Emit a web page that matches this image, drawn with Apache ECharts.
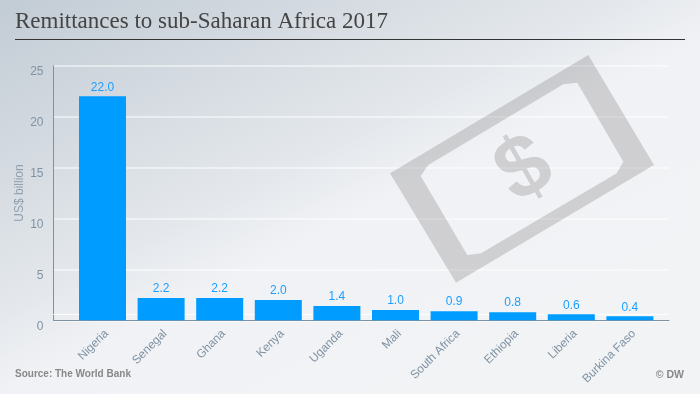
<!DOCTYPE html>
<html><head><meta charset="utf-8">
<style>html,body{margin:0;padding:0;background:#f2f3f5}#c{width:700px;height:394px}</style>
<script src="https://cdn.jsdelivr.net/npm/echarts@6/dist/echarts.min.js"></script>
</head><body><div id="c"></div>
<script>
const categories = ['Nigeria','Senegal','Ghana','Kenya','Uganda','Mali','South Africa','Ethiopia','Liberia','Burkina Faso'];
const values = [22.0,2.2,2.2,2.0,1.4,1.0,0.9,0.8,0.6,0.4];
const titleText = 'Remittances to sub-Saharan Africa 2017';
const sourceText = 'Source: The World Bank';
const creditText = '© DW';
const yName = 'US$ billion';
const axisGrey = '#7f92a3';

const chart = echarts.init(document.getElementById('c'), null, {renderer:'canvas'});
chart.setOption({
  animation:false,
  backgroundColor:{type:'linear',x:0,y:0,x2:0.36,y2:1.27,colorStops:[
    {offset:0,color:'#c2ccd5'},{offset:0.25,color:'#d3d9e0'},{offset:0.5,color:'#e4e8ec'},{offset:0.63,color:'#f1f2f5'},{offset:1,color:'#f2f3f5'}]},
  grid:[
    {left:53.5,right:31,top:65.7,bottom:73.7,containLabel:false},
    {left:73.2,width:586,top:65.7,bottom:73.7},
    {left:77.2,width:586,top:65.7,bottom:73.7}
  ],
  xAxis:[
    {gridIndex:0,type:'category',data:[],axisLine:{lineStyle:{color:axisGrey,width:1}},axisTick:{show:false},axisLabel:{show:false}},
    {gridIndex:1,type:'category',data:categories,axisLine:{show:false},axisTick:{show:false},axisLabel:{show:false}},
    {gridIndex:2,type:'category',data:categories,axisLine:{show:false},axisTick:{show:false},
     axisLabel:{rotate:45,interval:0,margin:11.5,color:axisGrey,fontFamily:'Liberation Sans',fontSize:11.8}}
  ],
  yAxis:[
    {gridIndex:0,type:'value',min:0,max:25,interval:5,name:yName,nameLocation:'middle',nameGap:25,nameMoveOverlap:false,
     nameTextStyle:{color:'#8f9fae',fontFamily:'Liberation Sans',fontSize:12,padding:[0,0,3,0]},
     axisLine:{show:true,lineStyle:{color:axisGrey,width:1}},axisTick:{show:false},
     axisLabel:{margin:10,color:axisGrey,fontFamily:'Liberation Sans',fontSize:12,verticalAlign:'top'},
     splitLine:{show:true,lineStyle:{color:'rgba(255,255,255,0.65)',width:1.5}}},
    {gridIndex:1,type:'value',min:0,max:25,interval:5,show:false},
    {gridIndex:2,type:'value',min:0,max:25,interval:5,show:false}
  ],
  series:[{type:'bar',xAxisIndex:1,yAxisIndex:1,data:values,barWidth:47,z:5,
    itemStyle:{color:'#009cff'},
    label:{show:true,position:'top',distance:3,color:'#1a9fff',fontFamily:'Liberation Sans',fontSize:12,
      formatter:p=>p.value.toFixed(1)}}],
  graphic:[
    {type:'text',left:15,top:10,z:10,style:{text:titleText,fill:'#444',font:'23px "Liberation Serif"'}},
    {type:'rect',z:10,shape:{x:15,y:39,width:670,height:1},style:{fill:'#333'}},
    {type:'rect',z:1,shape:{x:53,y:314,width:616,height:1},style:{fill:'rgba(255,255,255,0.8)'}},
    {type:'polygon',z:2,shape:{points:[[588.3,55],[654,165],[456,282.7],[390,173.3],[588.3,55],
      [563.3,84.3],[428.3,165],[420.7,176],[467.3,255],[481,253.3],[616.7,173.3],[623.3,161.7],[577.3,82.7],[563.3,84.3]]},
      style:{fill:'rgba(0,0,0,0.14)'}},
    {type:'text',z:2,x:525,y:171,rotation:Math.PI/6,style:{text:'$',fill:'rgba(0,0,0,0.14)',font:'bold 88px "Liberation Sans"',align:'center',verticalAlign:'middle'}},
    {type:'text',z:10,left:15,top:369,style:{text:sourceText,fill:'#888',font:'bold 10px "Liberation Sans"'}},
    {type:'text',z:10,right:16,top:370,style:{text:creditText,fill:'#888',font:'bold 10.5px "Liberation Sans"'}}
  ]
});
</script></body></html>
